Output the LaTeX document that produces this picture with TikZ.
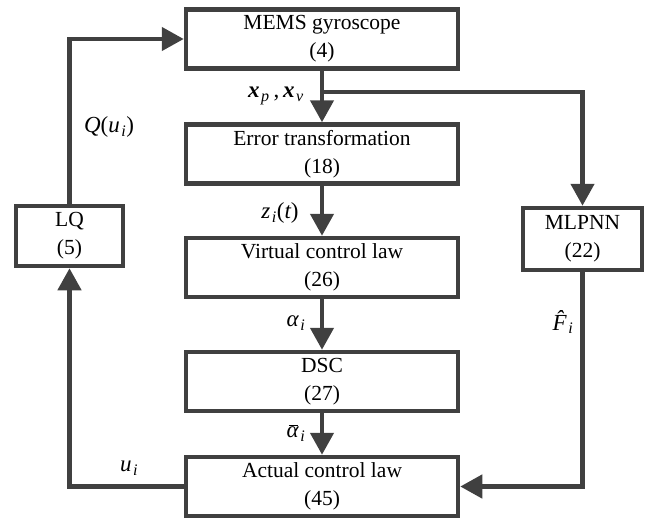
\documentclass[tikz,border=0pt]{standalone}
\usepackage{fontspec}
\setmainfont{Liberation Serif}
\usetikzlibrary{arrows.meta}
\definecolor{dgray}{HTML}{404040}
\newcommand{\lsub}[1]{\kern1.5pt\textsubscript{\itshape #1}}
\begin{document}
\begin{tikzpicture}[x=1pt,y=-1pt,
  box/.style={draw=dgray, line width=4.5pt, fill=white, align=center, inner sep=0pt,
    font=\fontsize{21.5}{28}\selectfont},
  mainbox/.style={box, minimum width=272pt, minimum height=59pt},
  conn/.style={draw=dgray, line width=4.5pt},
  arr/.style={conn, -{Triangle[length=22pt,width=23pt]}},
  lbl/.style={inner sep=0pt, font=\fontsize{23}{27}\selectfont}]
\useasboundingbox (0,0) rectangle (647,517);
\node[mainbox] (mems) at (322,39) {MEMS gyroscope\\(4)};
\node[mainbox] (err) at (322,154) {Error transformation\\(18)};
\node[mainbox] (vcl) at (322,267.5) {Virtual control law\\(26)};
\node[mainbox] (dsc) at (322,381.5) {DSC\\(27)};
\node[mainbox] (acl) at (322,486.5) {Actual control law\\(45)};
\node[box, minimum width=107pt, minimum height=60pt] (lq) at (69.5,236) {LQ\\(5)};
\node[box, minimum width=119pt, minimum height=62pt] (nn) at (582.5,239) {MLPNN\\(22)};
\coordinate (br) at (322,92);
\draw[arr] (mems) -- (err);
\draw[arr] (br) -| (nn.north);
\draw[arr] (err) -- (vcl);
\draw[arr] (vcl) -- (dsc);
\draw[arr] (dsc) -- (acl);
\draw[arr] (acl.west) -| (lq.south);
\draw[arr] (lq.north) |- (mems.west);
\draw[arr] (nn.south) |- (acl.east);
\node[lbl] (lx) at (276,96) {\textbf{\itshape x}\lsub{p}\,,\,\textbf{\itshape x}\lsub{v}};
\node[lbl] (lq1) at (109,127) {{\itshape Q}({\itshape u}\lsub{i})};
\node[lbl] (lz) at (280,213) {{\itshape z}\lsub{i}({\itshape t})};
\node[lbl] (la) at (296,323) {{\itshape α}\lsub{i}};
\node[lbl] (lab) at (296,433) {{\itshape α}\llap{\raisebox{12pt}{\rule{9pt}{0.9pt}}\kern1pt}\lsub{i}};
\node[lbl] (lu) at (129,468) {{\itshape u}\lsub{i}};
\node[lbl] (lf) at (563,322) {{\itshape \^F}\lsub{i}};
\end{tikzpicture}
\end{document}
